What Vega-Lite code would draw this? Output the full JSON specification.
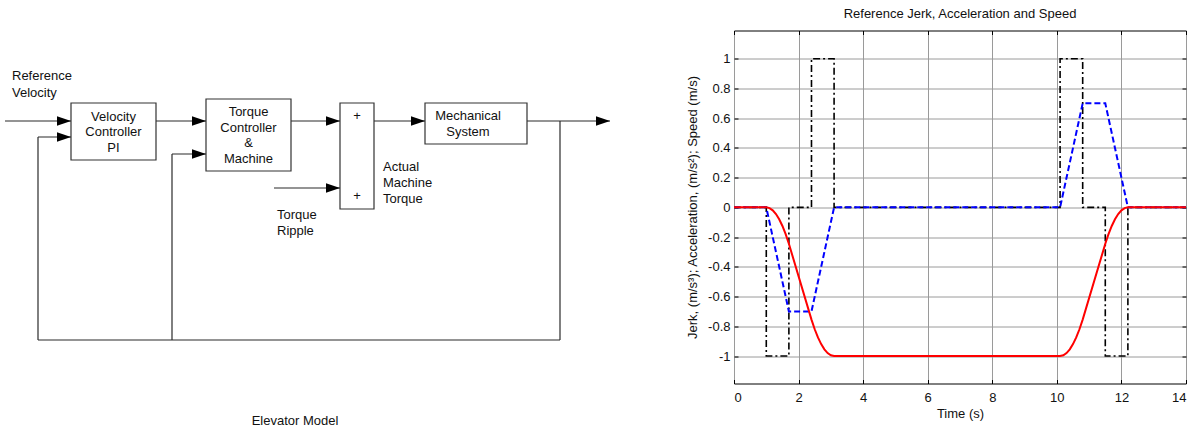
{
  "$schema": "https://vega.github.io/schema/vega-lite/v6.json",
  "padding": 0,
  "autosize": {"type": "pad"},
  "background": "white",
  "spacing": 114,
  "bounds": "flush",
  "center": true,
  "datasets": {
    "boxes": [
      {"x": 71, "x2": 156, "y": 103, "y2": 160},
      {"x": 206, "x2": 291, "y": 99, "y2": 171},
      {"x": 340, "x2": 374, "y": 103, "y2": 209},
      {"x": 425, "x2": 527, "y": 103, "y2": 144}
    ],
    "wires": [
      {"x": 5, "x2": 71, "y": 121, "y2": 121},
      {"x": 156, "x2": 206, "y": 121, "y2": 121},
      {"x": 291, "x2": 340, "y": 121, "y2": 121},
      {"x": 274, "x2": 340, "y": 188, "y2": 188},
      {"x": 374, "x2": 425, "y": 121, "y2": 121},
      {"x": 527, "x2": 610, "y": 121, "y2": 121},
      {"x": 560, "x2": 560, "y": 121, "y2": 340},
      {"x": 38, "x2": 560, "y": 340, "y2": 340},
      {"x": 38, "x2": 38, "y": 137, "y2": 340},
      {"x": 38, "x2": 71, "y": 137, "y2": 137},
      {"x": 172, "x2": 172, "y": 154, "y2": 340},
      {"x": 172, "x2": 206, "y": 154, "y2": 154}
    ],
    "arrows": [
      {"x": 71, "y": 121},
      {"x": 206, "y": 121},
      {"x": 340, "y": 121},
      {"x": 340, "y": 188},
      {"x": 425, "y": 121},
      {"x": 610, "y": 121},
      {"x": 71, "y": 137},
      {"x": 206, "y": 154}
    ],
    "labelsLeft": [
      {"x": 12, "y": 76, "text": "Reference"},
      {"x": 12, "y": 93, "text": "Velocity"},
      {"x": 383, "y": 167, "text": "Actual"},
      {"x": 383, "y": 183, "text": "Machine"},
      {"x": 383, "y": 199, "text": "Torque"},
      {"x": 277, "y": 215, "text": "Torque"},
      {"x": 277, "y": 231, "text": "Ripple"}
    ],
    "labelsCenter": [
      {"x": 113.5, "y": 117, "text": "Velocity"},
      {"x": 113.5, "y": 132, "text": "Controller"},
      {"x": 113.5, "y": 148, "text": "PI"},
      {"x": 248.5, "y": 112, "text": "Torque"},
      {"x": 248.5, "y": 128, "text": "Controller"},
      {"x": 248.5, "y": 143, "text": "&"},
      {"x": 248.5, "y": 159, "text": "Machine"},
      {"x": 357, "y": 116, "text": "+"},
      {"x": 357, "y": 196, "text": "+"},
      {"x": 468, "y": 116, "text": "Mechanical"},
      {"x": 468, "y": 132, "text": "System"},
      {"x": 295, "y": 421, "text": "Elevator Model"}
    ],
    "sig": [
      {"t": 0, "v": 0, "s": "Jerk"},
      {"t": 1, "v": -1, "s": "Jerk"},
      {"t": 1.7, "v": 0, "s": "Jerk"},
      {"t": 2.4, "v": 1, "s": "Jerk"},
      {"t": 3.1, "v": 0, "s": "Jerk"},
      {"t": 10.1, "v": 1, "s": "Jerk"},
      {"t": 10.8, "v": 0, "s": "Jerk"},
      {"t": 11.5, "v": -1, "s": "Jerk"},
      {"t": 12.2, "v": 0, "s": "Jerk"},
      {"t": 14, "v": 0, "s": "Jerk"},
      {"t": 0, "v": 0, "s": "Acceleration"},
      {"t": 1, "v": 0, "s": "Acceleration"},
      {"t": 1.7, "v": -0.7, "s": "Acceleration"},
      {"t": 2.4, "v": -0.7, "s": "Acceleration"},
      {"t": 3.1, "v": 0, "s": "Acceleration"},
      {"t": 10.1, "v": 0, "s": "Acceleration"},
      {"t": 10.8, "v": 0.7, "s": "Acceleration"},
      {"t": 11.5, "v": 0.7, "s": "Acceleration"},
      {"t": 12.2, "v": 0, "s": "Acceleration"},
      {"t": 14, "v": 0, "s": "Acceleration"},
      {"t": 0, "v": 0, "s": "Speed"},
      {"t": 1.0, "v": 0, "s": "Speed"},
      {"t": 1.1, "v": -0.005, "s": "Speed"},
      {"t": 1.2, "v": -0.02, "s": "Speed"},
      {"t": 1.3, "v": -0.045, "s": "Speed"},
      {"t": 1.4, "v": -0.08, "s": "Speed"},
      {"t": 1.5, "v": -0.125, "s": "Speed"},
      {"t": 1.6, "v": -0.18, "s": "Speed"},
      {"t": 1.7, "v": -0.245, "s": "Speed"},
      {"t": 2.4, "v": -0.755, "s": "Speed"},
      {"t": 2.5, "v": -0.82, "s": "Speed"},
      {"t": 2.6, "v": -0.875, "s": "Speed"},
      {"t": 2.7, "v": -0.92, "s": "Speed"},
      {"t": 2.8, "v": -0.955, "s": "Speed"},
      {"t": 2.9, "v": -0.98, "s": "Speed"},
      {"t": 3.0, "v": -0.995, "s": "Speed"},
      {"t": 3.1, "v": -1.0, "s": "Speed"},
      {"t": 10.1, "v": -1.0, "s": "Speed"},
      {"t": 10.2, "v": -0.995, "s": "Speed"},
      {"t": 10.3, "v": -0.98, "s": "Speed"},
      {"t": 10.4, "v": -0.955, "s": "Speed"},
      {"t": 10.5, "v": -0.92, "s": "Speed"},
      {"t": 10.6, "v": -0.875, "s": "Speed"},
      {"t": 10.7, "v": -0.82, "s": "Speed"},
      {"t": 10.8, "v": -0.755, "s": "Speed"},
      {"t": 11.5, "v": -0.245, "s": "Speed"},
      {"t": 11.6, "v": -0.18, "s": "Speed"},
      {"t": 11.7, "v": -0.125, "s": "Speed"},
      {"t": 11.8, "v": -0.08, "s": "Speed"},
      {"t": 11.9, "v": -0.045, "s": "Speed"},
      {"t": 12.0, "v": -0.02, "s": "Speed"},
      {"t": 12.1, "v": -0.005, "s": "Speed"},
      {"t": 12.2, "v": 0, "s": "Speed"},
      {"t": 14, "v": 0, "s": "Speed"}
    ]
  },
  "hconcat": [
    {
      "width": 620,
      "height": 414,
      "view": {"stroke": null},
      "encoding": {
        "x": {"field": "x", "type": "quantitative", "scale": {"domain": [0, 620], "nice": false, "zero": false}, "axis": null},
        "y": {"field": "y", "type": "quantitative", "scale": {"domain": [414, 0], "nice": false, "zero": false}, "axis": null}
      },
      "layer": [
        {
          "data": {"name": "wires"},
          "mark": {"type": "rule", "color": "#2a2a2a", "strokeWidth": 1.2},
          "encoding": {
            "x2": {"field": "x2"},
            "y2": {"field": "y2"}
          }
        },
        {
          "data": {"name": "boxes"},
          "mark": {"type": "rect", "fill": "white", "stroke": "#333333", "strokeWidth": 1.2},
          "encoding": {
            "x2": {"field": "x2"},
            "y2": {"field": "y2"}
          }
        },
        {
          "data": {"name": "arrows"},
          "mark": {"type": "point", "shape": "M0,0L-1,-0.34L-1,0.34Z", "size": 784, "filled": true, "color": "#000000", "opacity": 1, "strokeWidth": 0}
        },
        {
          "data": {"name": "labelsLeft"},
          "mark": {"type": "text", "align": "left", "baseline": "middle", "font": "Liberation Sans", "fontSize": 13, "color": "#111111"},
          "encoding": {"text": {"field": "text"}}
        },
        {
          "data": {"name": "labelsCenter"},
          "mark": {"type": "text", "align": "center", "baseline": "middle", "font": "Liberation Sans", "fontSize": 13, "color": "#111111"},
          "encoding": {"text": {"field": "text"}}
        }
      ]
    },
    {
      "width": 452,
      "height": 353,
      "view": {"stroke": "black", "strokeWidth": 1},
      "title": {"text": "Reference Jerk, Acceleration and Speed", "font": "Liberation Sans", "fontSize": 13, "fontWeight": "normal", "color": "#111111", "offset": 9, "anchor": "middle"},
      "data": {"name": "sig"},
      "resolve": {"axis": {"x": "independent", "y": "independent"}},
      "layer": [
        {
          "transform": [{"filter": "datum.s == 'Jerk'"}],
          "mark": {"type": "line", "interpolate": "step-after", "color": "#000000", "strokeWidth": 1.6, "strokeDash": [7, 3, 2, 3]},
          "encoding": {
            "x": {
              "field": "t", "type": "quantitative",
              "scale": {"domain": [0, 14], "nice": false, "zero": false},
              "axis": {"values": [0, 2, 4, 6, 8, 10, 12, 14], "title": "Time (s)", "grid": true, "ticks": true, "tickSize": -4, "tickColor": "#000000", "labelPadding": 12, "titlePadding": 3, "labelExpr": "'' + datum.value"}
            },
            "y": {
              "field": "v", "type": "quantitative",
              "scale": {"domain": [-1.185, 1.19], "nice": false, "zero": false},
              "axis": {"values": [-1, -0.8, -0.6, -0.4, -0.2, 0, 0.2, 0.4, 0.6, 0.8, 1], "title": "Jerk, (m/s³); Acceleration, (m/s²); Speed (m/s)", "grid": true, "ticks": true, "tickSize": -4, "tickColor": "#000000", "labelPadding": 8, "titlePadding": 8, "labelExpr": "'' + datum.value"}
            }
          }
        },
        {
          "transform": [{"filter": "datum.s == 'Acceleration'"}],
          "mark": {"type": "line", "color": "#0000ff", "strokeWidth": 2, "strokeDash": [6, 3]},
          "encoding": {
            "x": {"field": "t", "type": "quantitative", "axis": null},
            "y": {"field": "v", "type": "quantitative", "axis": null}
          }
        },
        {
          "transform": [{"filter": "datum.s == 'Speed'"}],
          "mark": {"type": "line", "color": "#ff0000", "strokeWidth": 2},
          "encoding": {
            "x": {"field": "t", "type": "quantitative", "axis": {"orient": "top", "values": [0, 2, 4, 6, 8, 10, 12, 14], "labels": false, "title": null, "grid": false, "ticks": true, "tickSize": -4, "tickColor": "#000000"}},
            "y": {"field": "v", "type": "quantitative", "axis": {"orient": "right", "values": [-1, -0.8, -0.6, -0.4, -0.2, 0, 0.2, 0.4, 0.6, 0.8, 1], "labels": false, "title": null, "grid": false, "ticks": true, "tickSize": -4, "tickColor": "#000000"}}
          }
        }
      ]
    }
  ],
  "config": {
    "axis": {
      "labelFont": "Liberation Sans",
      "labelFontSize": 13,
      "labelColor": "#111111",
      "titleFont": "Liberation Sans",
      "titleFontSize": 13,
      "titleFontWeight": "normal",
      "titleColor": "#111111",
      "domain": false,
      "gridColor": "#9a9a9a",
      "gridOpacity": 1,
      "gridWidth": 1
    }
  }
}
